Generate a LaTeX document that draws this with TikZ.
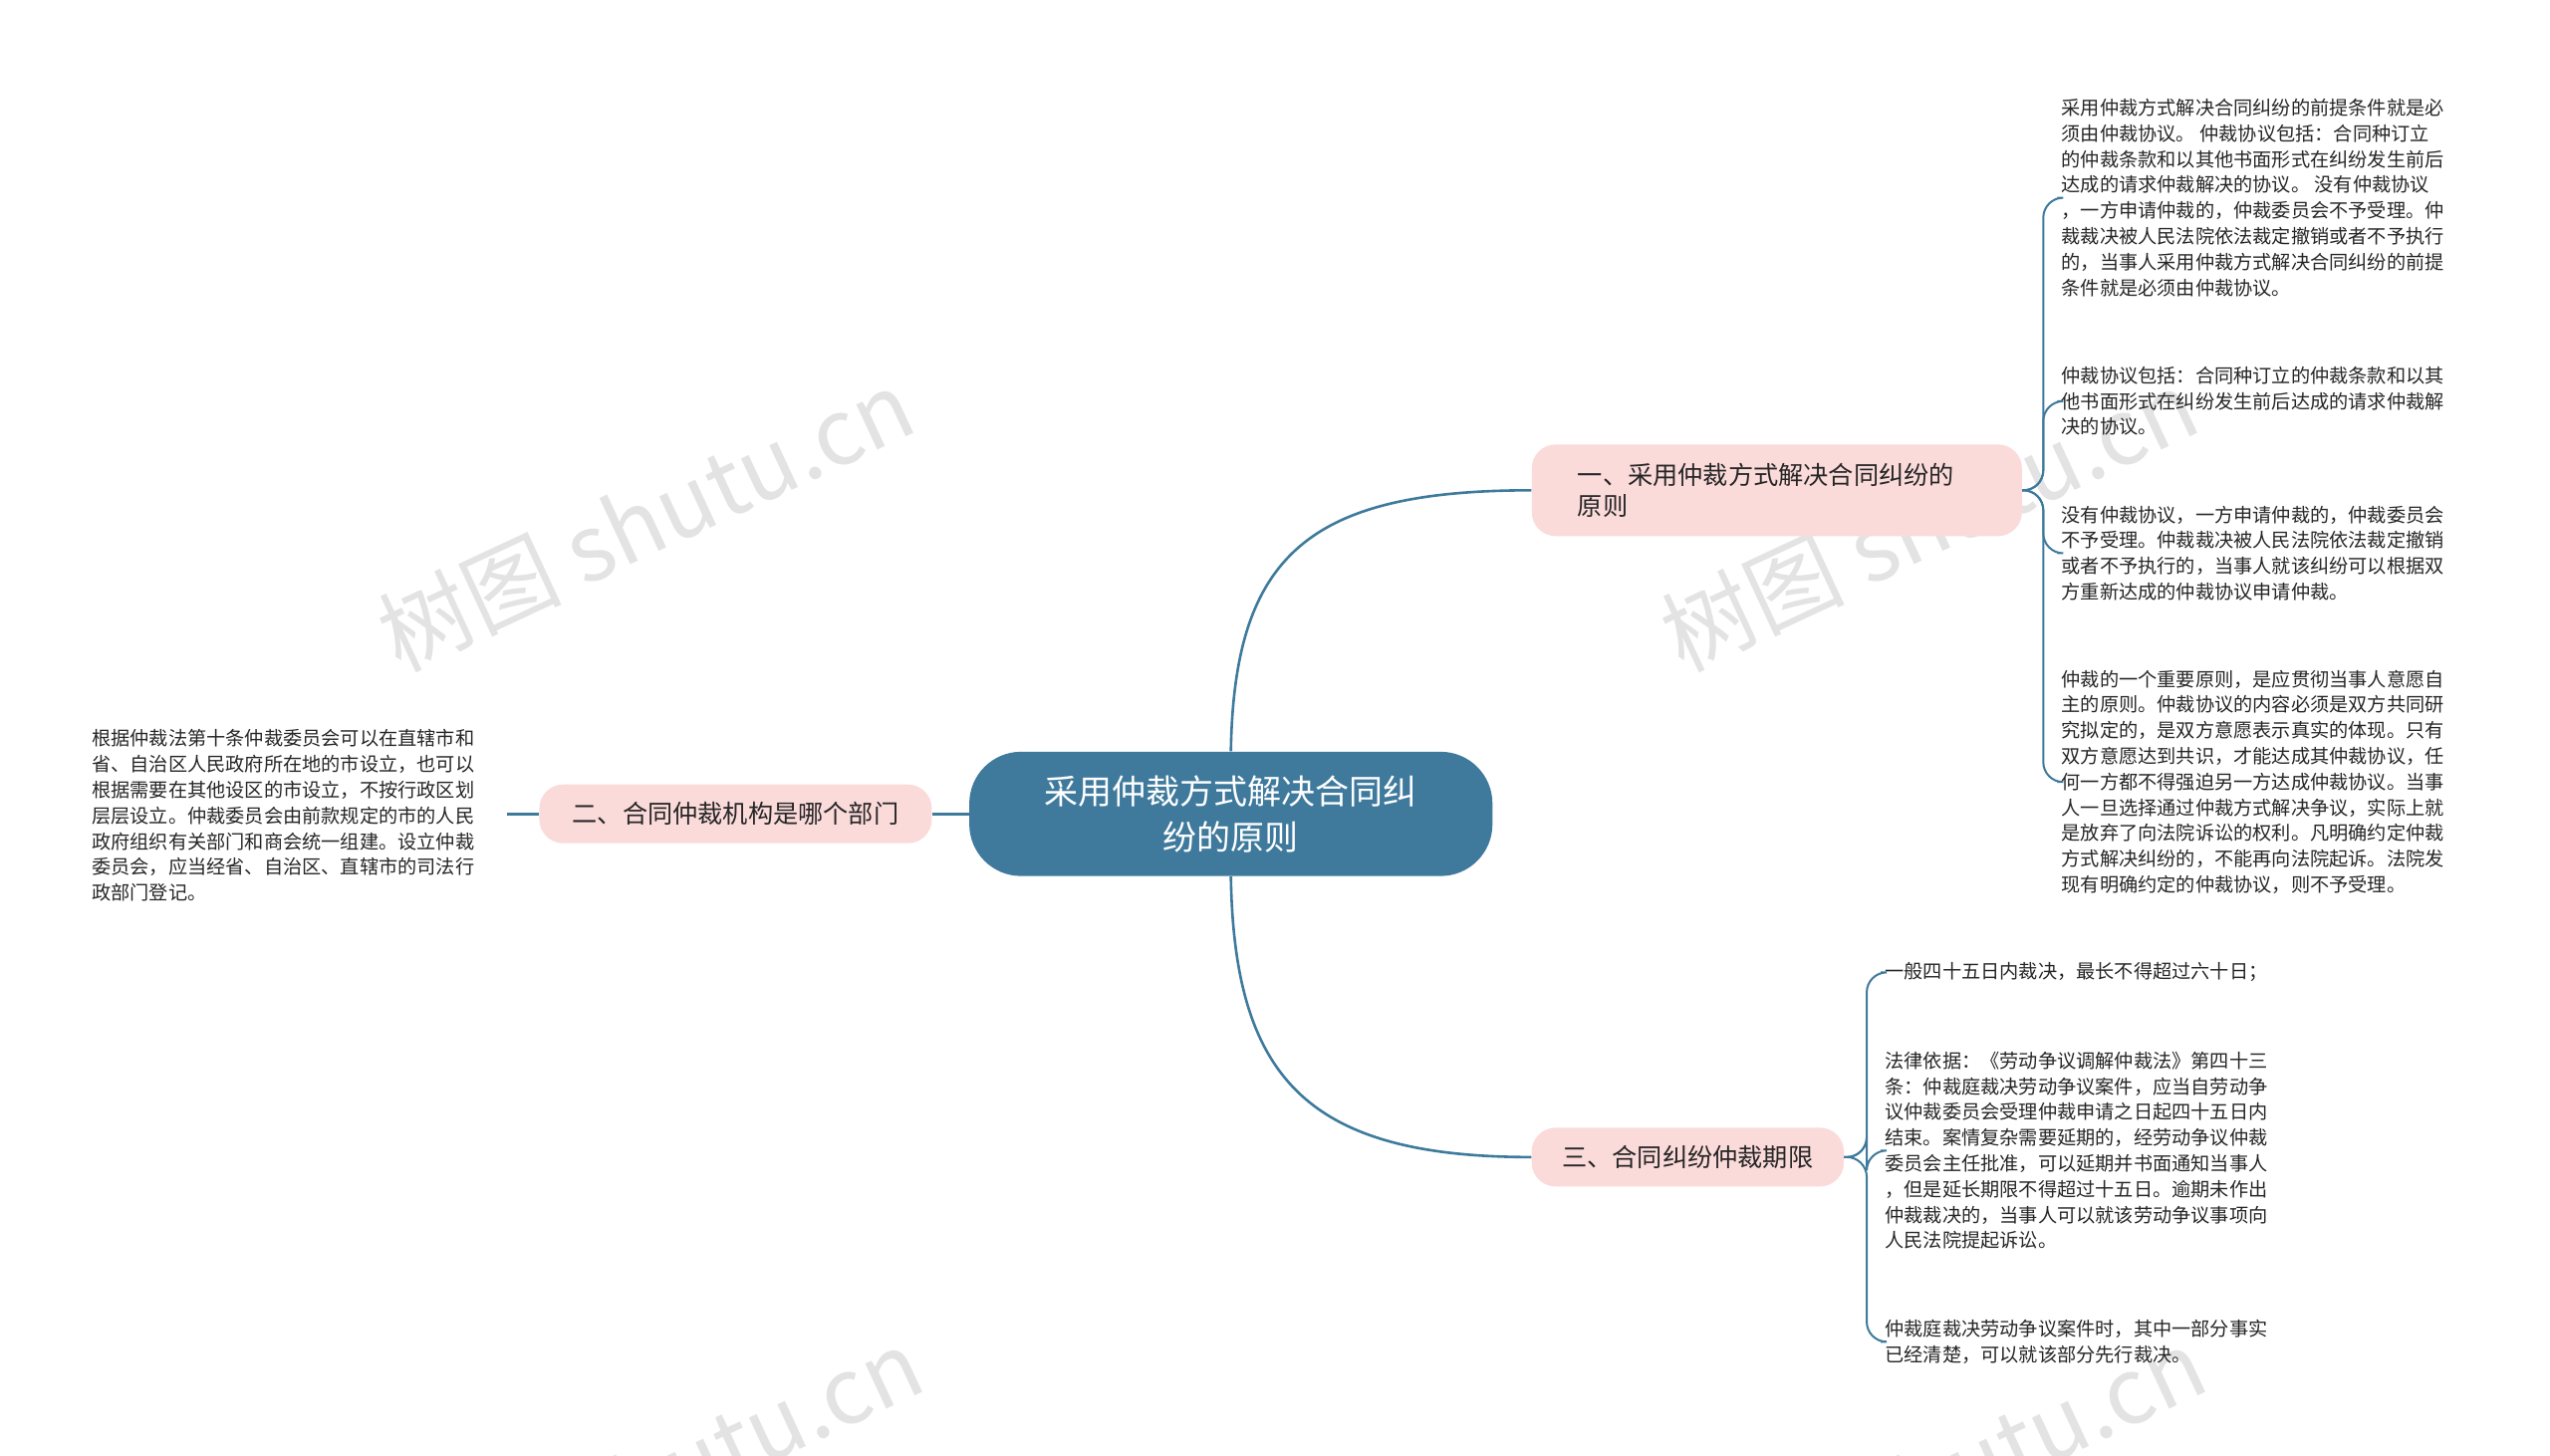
\documentclass[tikz,border=0pt]{standalone}
\usepackage{fontspec}
\setmainfont{Noto Sans CJK SC}
\begin{document}
\begin{tikzpicture}[x=0.8205pt,y=-0.8205pt,
  conn/.style={draw=linkc,line width=1.3pt},
  br/.style={fill=pinkc,rounded corners=12pt,inner sep=0pt,font=\fontsize{12.6pt}{15.5pt}\selectfont,text=black!85},
  leaf/.style={anchor=west,align=left,inner sep=0pt,font=\fontsize{9.6pt}{12.9pt}\selectfont,text=black!85},
  wm/.style={text=gray!22,rotate=25,font=\fontsize{46pt}{50pt}\selectfont}]
\definecolor{linkc}{HTML}{3E7A9C}
\definecolor{rootc}{HTML}{3F7A9D}
\definecolor{pinkc}{HTML}{FBDADA}
\useasboundingbox (0,0) rectangle (1560,890.3);
\fill[white] (0,0) rectangle (1560,890.3);
% watermarks
\node[wm] at (395,318) {树图 shutu.cn};
\node[wm] at (1180,318) {树图 shutu.cn};
\node[wm] at (400,905) {树图 shutu.cn};
\node[wm] at (1185,905) {树图 shutu.cn};
% nodes
\node[fill=rootc,rounded corners=26pt,minimum width=262.6pt,minimum height=62.4pt,text=white,align=center,font=\fontsize{17pt}{23pt}\selectfont] (root) at (753,498) {采用仲裁方式解决合同纠\\纷的原则};
\node[br,minimum width=246pt,minimum height=46pt,align=left,text width=200pt] (b1) at (1087,300) {一、采用仲裁方式解决合同纠纷的\\原则};
\node[br,minimum width=197pt,minimum height=29.5pt] (b2) at (450,498) {二、合同仲裁机构是哪个部门};
\node[br,minimum width=156.7pt,minimum height=29.5pt] (b3) at (1032.5,708) {三、合同纠纷仲裁期限};
% leaves
\node[leaf] (l11) at (1261,121) {采用仲裁方式解决合同纠纷的前提条件就是必\\须由仲裁协议。 仲裁协议包括：合同种订立\\的仲裁条款和以其他书面形式在纠纷发生前后\\达成的请求仲裁解决的协议。 没有仲裁协议\\，一方申请仲裁的，仲裁委员会不予受理。仲\\裁裁决被人民法院依法裁定撤销或者不予执行\\的，当事人采用仲裁方式解决合同纠纷的前提\\条件就是必须由仲裁协议。};
\node[leaf] (l12) at (1261,245.5) {仲裁协议包括：合同种订立的仲裁条款和以其\\他书面形式在纠纷发生前后达成的请求仲裁解\\决的协议。};
\node[leaf] (l13) at (1261,338.5) {没有仲裁协议，一方申请仲裁的，仲裁委员会\\不予受理。仲裁裁决被人民法院依法裁定撤销\\或者不予执行的，当事人就该纠纷可以根据双\\方重新达成的仲裁协议申请仲裁。};
\node[leaf] (l14) at (1261,478.5) {仲裁的一个重要原则，是应贯彻当事人意愿自\\主的原则。仲裁协议的内容必须是双方共同研\\究拟定的，是双方意愿表示真实的体现。只有\\双方意愿达到共识，才能达成其仲裁协议，任\\何一方都不得强迫另一方达成仲裁协议。当事\\人一旦选择通过仲裁方式解决争议，实际上就\\是放弃了向法院诉讼的权利。凡明确约定仲裁\\方式解决纠纷的，不能再向法院起诉。法院发\\现有明确约定的仲裁协议，则不予受理。};
\node[leaf] (l21) at (56,499) {根据仲裁法第十条仲裁委员会可以在直辖市和\\省、自治区人民政府所在地的市设立，也可以\\根据需要在其他设区的市设立，不按行政区划\\层层设立。仲裁委员会由前款规定的市的人民\\政府组织有关部门和商会统一组建。设立仲裁\\委员会，应当经省、自治区、直辖市的司法行\\政部门登记。};
\node[leaf] (l31) at (1153,595) {一般四十五日内裁决，最长不得超过六十日；};
\node[leaf] (l32) at (1153,704) {法律依据：《劳动争议调解仲裁法》第四十三\\条：仲裁庭裁决劳动争议案件，应当自劳动争\\议仲裁委员会受理仲裁申请之日起四十五日内\\结束。案情复杂需要延期的，经劳动争议仲裁\\委员会主任批准，可以延期并书面通知当事人\\，但是延长期限不得超过十五日。逾期未作出\\仲裁裁决的，当事人可以就该劳动争议事项向\\人民法院提起诉讼。};
\node[leaf] (l33) at (1153,821) {仲裁庭裁决劳动争议案件时，其中一部分事实\\已经清楚，可以就该部分先行裁决。};
\coordinate (e21) at (310,498);
% connectors
\draw[conn] (root.north) .. controls (755,340) and (800,300) .. (b1.west);
\draw[conn] (root.south) .. controls (755,660) and (800,708) .. (b3.west);
\draw[conn] (root.west) -- (b2.east);
\draw[conn] (b2.west) -- (e21);
\foreach \l in {l11,l12,l13,l14}
  \draw[conn,line width=1pt,rounded corners=10] (b1.east) -- (1250,300) -- (1250,0 |- \l.west) -- ([xshift=-2]\l.west);
\foreach \l in {l31,l32,l33}
  \draw[conn,line width=1pt,rounded corners=10] (b3.east) -- (1142,708) -- (1142,0 |- \l.west) -- ([xshift=-2]\l.west);
\end{tikzpicture}
\end{document}
